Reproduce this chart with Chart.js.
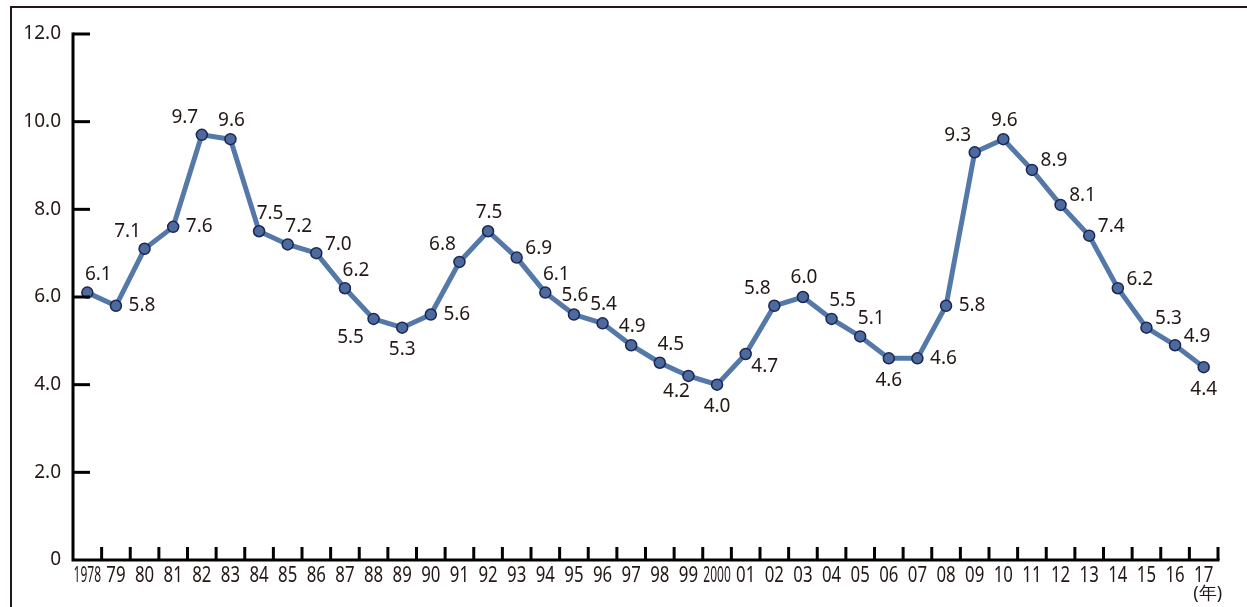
<!DOCTYPE html>
<html>
<head>
<meta charset="utf-8">
<script src="https://cdn.jsdelivr.net/npm/chart.js@4/dist/chart.umd.min.js"></script>
<style>
  html, body { margin: 0; padding: 0; background: #fff; }
  #wrap { position: relative; width: 1247px; height: 607px; }
  #frame { position: absolute; left: 10px; top: 6px; right: -4px; bottom: -4px;
           border-left: 2px solid #231815; border-top: 2px solid #231815; pointer-events: none; }
</style>
</head>
<body>
<div id="wrap">
  <canvas id="myChart"></canvas>
  <div id="frame"></div>
</div>
<script>
// 年（1978〜2017）
const years = [
  "1978", "79", "80", "81", "82", "83", "84", "85", "86", "87",
  "88", "89", "90", "91", "92", "93", "94", "95", "96", "97",
  "98", "99", "2000", "01", "02", "03", "04", "05", "06", "07",
  "08", "09", "10", "11", "12", "13", "14", "15", "16", "17"
];

// 値（%）
const values = [
  6.1, 5.8, 7.1, 7.6, 9.7, 9.6, 7.5, 7.2, 7.0, 6.2,
  5.5, 5.3, 5.6, 6.8, 7.5, 6.9, 6.1, 5.6, 5.4, 4.9,
  4.5, 4.2, 4.0, 4.7, 5.8, 6.0, 5.5, 5.1, 4.6, 4.6,
  5.8, 9.3, 9.6, 8.9, 8.1, 7.4, 6.2, 5.3, 4.9, 4.4
];

// y軸の目盛り
const yTicks = [0, 2, 4, 6, 8, 10, 12];

// ラベルの位置（点に対する向き）
const labelSide = [
  "ne", "e", "nw", "e", "nw", "n", "ne", "ne", "ene", "ne",
  "sw", "s", "e", "nw", "n", "ene", "ne", "n", "n", "n",
  "ne", "sw2", "s", "se", "nw", "n", "ne", "ne", "s", "e",
  "e", "nw", "n", "ene", "ene", "ene", "ene", "ene", "ene", "s"
];
const sideOffset = {
  n: [1, -19], ne: [11, -18], e: [26, 0], ene: [22, -9],
  nw: [-17, -17], s: [0, 22], sw: [-23, 19], sw2: [-12, 16], se: [19, 13]
};

const INK = "#231815";
const FONT = "'Noto Sans', sans-serif";

// 軸・目盛り・ラベルを描くプラグイン
const axisPlugin = {
  id: "axisPlugin",
  afterDatasetsDraw(chart) {
    const ctx = chart.ctx;
    const x = chart.scales.x;
    const y = chart.scales.y;
    const area = chart.chartArea;
    ctx.save();

    // 軸線
    ctx.strokeStyle = "#000";
    ctx.lineWidth = 3;
    ctx.beginPath();
    ctx.moveTo(area.left, y.getPixelForValue(12) - 1.5);
    ctx.lineTo(area.left, area.bottom);
    ctx.lineTo(area.right + 1.5, area.bottom);
    ctx.stroke();

    // y軸の目盛り（内向き）
    yTicks.forEach(v => {
      if (v === 0) return;
      const py = y.getPixelForValue(v);
      ctx.beginPath();
      ctx.moveTo(area.left, py);
      ctx.lineTo(area.left + 17, py);
      ctx.stroke();
    });

    // x軸の目盛り（区切り位置、上向き）
    for (let i = 1; i <= years.length; i++) {
      const px = i < years.length
        ? (x.getPixelForValue(i - 1) + x.getPixelForValue(i)) / 2
        : area.right;
      ctx.beginPath();
      ctx.moveTo(px, area.bottom);
      ctx.lineTo(px, area.bottom - 13);
      ctx.stroke();
    }

    // x軸ラベル（長体）
    ctx.fillStyle = INK;
    ctx.textAlign = "center";
    ctx.textBaseline = "alphabetic";
    ctx.font = "21px " + FONT;
    years.forEach((lab, i) => {
      const px = x.getPixelForValue(i);
      const sx = lab.length > 2 ? 0.57 : 0.8;
      ctx.save();
      ctx.translate(px, area.bottom + 22);
      ctx.scale(sx, 1);
      ctx.fillText(lab, 0, 0);
      ctx.restore();
    });
    ctx.font = "18px " + FONT;
    ctx.textBaseline = "middle";
    ctx.fillText("(年)", x.getPixelForValue(years.length - 1) + 4, area.bottom + 34);

    // データラベル
    ctx.font = "19px " + FONT;
    const meta = chart.getDatasetMeta(0);
    meta.data.forEach((pt, i) => {
      const off = sideOffset[labelSide[i]];
      ctx.fillText(values[i].toFixed(1), pt.x + off[0], pt.y + off[1]);
    });

    ctx.restore();
  }
};

const canvas = document.getElementById("myChart");
new Chart(canvas.getContext("2d"), {
  type: "line",
  data: {
    labels: years,
    datasets: [{
      data: values,
      borderColor: "#5479a8",
      borderWidth: 5,
      tension: 0,
      pointRadius: 5.5,
      pointBackgroundColor: "#4d6a9c",
      pointBorderColor: "#1b2656",
      pointBorderWidth: 1.5,
      pointHoverRadius: 5.5
    }]
  },
  options: {
    responsive: true,
    maintainAspectRatio: false,
    animation: false,
    events: [],
    layout: { padding: { top: 34, right: 29, left: 0, bottom: 0 } },
    plugins: {
      legend: { display: false },
      tooltip: { enabled: false }
    },
    scales: {
      x: {
        type: "category",
        offset: true,
        grid: { display: false, drawTicks: false },
        border: { display: false },
        ticks: { display: false },
        afterFit(scale) { scale.height = 47; }
      },
      y: {
        min: 0,
        max: 12,
        afterBuildTicks(scale) { scale.ticks = yTicks.map(v => ({ value: v })); },
        grid: { display: false, drawTicks: false },
        border: { display: false },
        ticks: {
          padding: 12,
          color: INK,
          font: { family: "'Noto Sans', sans-serif", size: 19 },
          callback: v => (v === 0 ? "0" : v.toFixed(1))
        },
        afterFit(scale) { scale.width = 73; }
      }
    }
  },
  plugins: [axisPlugin]
});
</script>
</body>
</html>
